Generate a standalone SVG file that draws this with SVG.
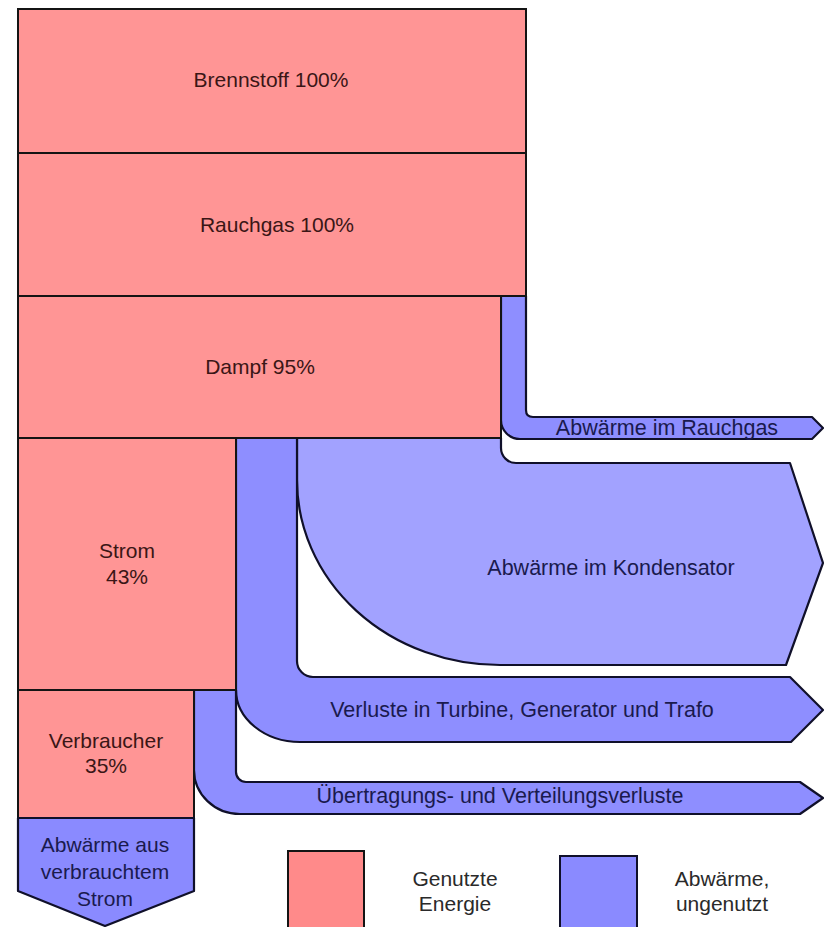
<svg xmlns="http://www.w3.org/2000/svg" width="824" height="927" viewBox="0 0 824 927">
<style>
  .pink { fill: #FF9595; stroke: #141414; stroke-width: 2; }
  .band { fill: #8E8EFF; stroke: #10102a; stroke-width: 2.2; stroke-linejoin: round; }
  .kond { fill: #A2A2FF; stroke: #10102a; stroke-width: 2.2; stroke-linejoin: round; }
  text { font-family: "Liberation Sans", Arial, sans-serif; font-size: 21px; text-anchor: middle; }
  .tp { fill: #3a1616; }
  .tb { fill: #1a1a4e; }
  .tl { fill: #2a2a2a; }
  .big { font-size: 21.5px; }
</style>
<rect width="824" height="927" fill="#ffffff"/>
<g id="connectors">
  <path id="flow-rauchgas" class="band" d="M501,296 H526 V410 Q526,417 533,417 H812 L823,428 L812,439 H520 A19,19 0 0 1 501,420 Z"/>
  <path id="flow-kondensator" class="kond" d="M297,438 H501 V448 A15,15 0 0 0 516,463 H790 L823,563 L786,665 H500 A203,185 0 0 1 297,480 Z"/>
  <path id="flow-turbine" class="band" d="M236,438 H297 V661 A16,16 0 0 0 313,677 H790 L823,710 L791,742 H300 A64,52 0 0 1 236,690 Z"/>
  <path id="flow-uebertragung" class="band" d="M194,690 H236 V772 A10,10 0 0 0 246,782 H800 L823,798 L800,814 H240 A46,44 0 0 1 194,770 Z"/>
</g>
<g id="brennstoff"><rect class="pink" x="18" y="9" width="508" height="144"/><text class="tp" x="271" y="87">Brennstoff 100%</text></g>
<g id="rauchgas"><rect class="pink" x="18" y="153" width="508" height="143"/><text class="tp" x="277" y="232">Rauchgas 100%</text></g>
<g id="dampf"><rect class="pink" x="18" y="296" width="483" height="142"/><text class="tp" x="260" y="374">Dampf 95%</text></g>
<g id="strom"><rect class="pink" x="18" y="438" width="218" height="252"/><text class="tp" x="127" y="558">Strom</text><text class="tp" x="127" y="584">43%</text></g>
<g id="verbraucher"><rect class="pink" x="18" y="690" width="176" height="128"/><text class="tp" x="106" y="748">Verbraucher</text><text class="tp" x="106" y="773">35%</text></g>
<g id="abwaerme-strom"><path class="band" d="M18,818 H194 V891 L105,926 L18,891 Z" style="fill:#8A8AFF"/><text class="tb" x="105" y="852">Abwärme aus</text><text class="tb" x="105" y="879">verbrauchtem</text><text class="tb" x="105" y="906">Strom</text></g>
<g id="label-rauchgas"><text class="tb big" x="667" y="435">Abwärme im Rauchgas</text></g>
<g id="label-kondensator"><text class="tb big" x="611" y="575">Abwärme im Kondensator</text></g>
<g id="label-turbine"><text class="tb big" x="522" y="717">Verluste in Turbine, Generator und Trafo</text></g>
<g id="label-uebertragung"><text class="tb big" x="500" y="803">Übertragungs- und Verteilungsverluste</text></g>
<g id="legend-genutzt"><rect x="288" y="851" width="76" height="84" fill="#FF8A8A" stroke="#141414" stroke-width="2"/><text class="tl" x="455" y="886">Genutzte</text><text class="tl" x="455" y="911">Energie</text></g>
<g id="legend-abwaerme"><rect x="560" y="856" width="77" height="80" fill="#8A8AFF" stroke="#10102a" stroke-width="2"/><text class="tl" x="722" y="886">Abwärme,</text><text class="tl" x="722" y="911">ungenutzt</text></g>
</svg>
